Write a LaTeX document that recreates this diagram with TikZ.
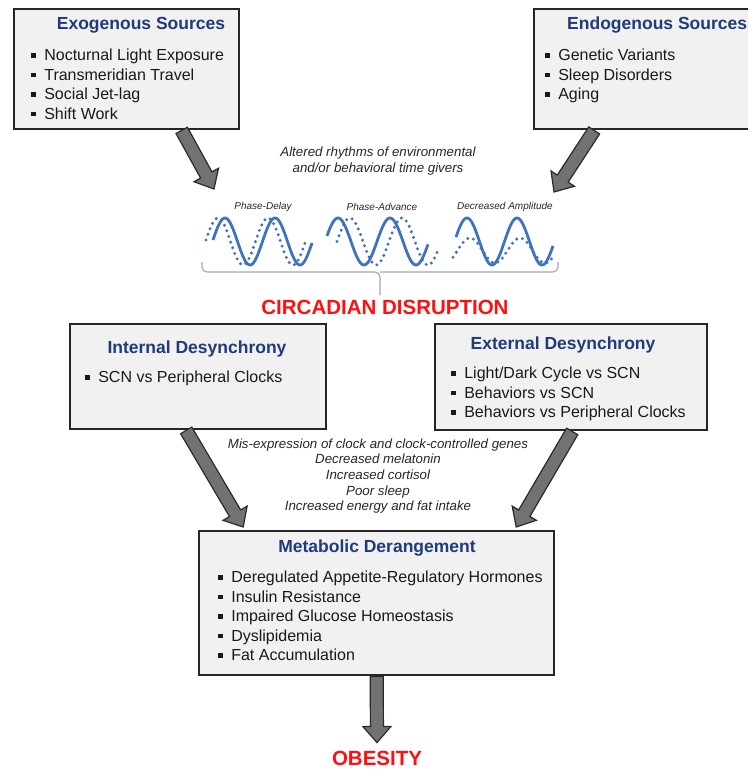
\documentclass[tikz,border=0pt]{standalone}
\usepackage{fontspec}
\setmainfont{Liberation Sans}
\usetikzlibrary{calc}

\definecolor{boxfill}{HTML}{F1F1F1}
\definecolor{boxline}{HTML}{262626}
\definecolor{titleblue}{HTML}{1F3B7A}
\definecolor{alarmred}{HTML}{FF1010}
\definecolor{waveblue}{HTML}{3F72BF}
\definecolor{arrowgray}{HTML}{727272}
\definecolor{arrowline}{HTML}{2A2A2A}
\definecolor{bracegray}{HTML}{A8A8A8}

\newcommand\sqb{\rule[0.2em]{0.27em}{0.27em}\hspace{0.55em}}
% block arrow from #1 to #2
\newcommand\fatarrow[2]{%
  \coordinate (fa-base) at ($(#2)!16pt!(#1)$);
  \filldraw[fatarrow] ($(#1)!6.5pt!90:(#2)$) -- ($(fa-base)!6.5pt!90:(#2)$)
    -- ($(fa-base)!14pt!90:(#2)$) -- (#2) -- ($(fa-base)!14pt!-90:(#2)$)
    -- ($(fa-base)!6.5pt!-90:(#2)$) -- ($(#1)!6.5pt!-90:(#2)$) -- cycle;}

\begin{document}
\begin{tikzpicture}[x=1pt,y=-1pt,
  box/.style={draw=boxline, fill=boxfill, line width=2.4pt, rectangle, inner sep=0pt, anchor=north west},
  boxtitle/.style={font=\fontsize{17.5}{20}\selectfont\bfseries, text=titleblue, inner sep=0pt},
  itemlist/.style={font=\fontsize{16}{19.5}\selectfont, text=black!90, align=left, anchor=north west, inner sep=0pt},
  note/.style={font=\fontsize{13.3}{15.6}\selectfont\itshape, text=black!85, align=center, inner sep=0pt},
  wavelabel/.style={font=\fontsize{10}{12}\selectfont\itshape, text=black!85, inner sep=0pt},
  alarm/.style={font=\fontsize{20.5}{24}\selectfont\bfseries, text=alarmred, inner sep=1pt},
  wave/.style={draw=waveblue, line width=2.8pt},
  dotwave/.style={wave, line width=3.3pt, line cap=round, dash pattern=on 0pt off 6pt},
  fatarrow/.style={draw=arrowline, fill=arrowgray, line width=1.2pt},
  brace/.style={draw=bracegray, line width=1.2pt, rounded corners=5pt}]
\useasboundingbox (0,0) rectangle (747,771);

% sources
\draw (13,8) node (exo) [box, minimum width=225pt, minimum height=120pt] {};
\draw (533,8) node (endo) [box, minimum width=234pt, minimum height=120pt] {};
\draw (141,25) node (exo-t) [boxtitle] {Exogenous Sources};
\draw (567,25) node (endo-t) [boxtitle, anchor=west] {Endogenous Sources};
\draw (31,49) node (exo-l) [itemlist] {\sqb Nocturnal Light Exposure\\ \sqb Transmeridian Travel\\ \sqb Social Jet-lag\\ \sqb Shift Work};
\draw (545,49) node (endo-l) [itemlist] {\sqb Genetic Variants\\ \sqb Sleep Disorders\\ \sqb Aging};

\draw (378,161) node (altered) [note] {Altered rhythms of environmental\\ and/or behavioral time givers};

% rhythms
\draw (263,207) node (pd) [wavelabel] {Phase-Delay};
\draw (382,207) node (pa) [wavelabel] {Phase-Advance};
\draw (505,207) node (da) [wavelabel] {Decreased Amplitude};
\draw[wave] plot[domain=213:312, samples=80] (\x, {241.5-23.5*cos((\x-225)/50*360)});
\draw[dotwave] plot[domain=206:305, samples=80] (\x, {241.5-23.5*cos((\x-218)/50*360)});
\draw[wave] plot[domain=327:428, samples=80] (\x, {241.5-23.5*cos((\x-338)/52*360)});
\draw[dotwave] plot[domain=337:437, samples=80] (\x, {241.5-23.5*cos((\x-350)/52*360)});
\draw[wave] plot[domain=456:553, samples=80] (\x, {241.5-23.5*cos((\x-467)/50*360)});
\draw[dotwave] plot[domain=453:553, samples=80] (\x, {250.5-12.5*cos((\x-470)/50*360)});
\draw[brace] (202,262) |- (380,272) -- (380,295);
\draw[brace] (558,262) |- (380,272);

\draw (385,307) node (cd) [alarm] {CIRCADIAN DISRUPTION};

% desynchrony
\draw (69,323) node (intl) [box, minimum width=256pt, minimum height=105pt] {};
\draw (434,323) node (extl) [box, minimum width=272pt, minimum height=106pt] {};
\draw (197,349) node (intl-t) [boxtitle] {Internal Desynchrony};
\draw (563,345) node (extl-t) [boxtitle] {External Desynchrony};
\draw (85,371) node (intl-l) [itemlist] {\sqb SCN vs Peripheral Clocks};
\draw (451,367) node (extl-l) [itemlist] {\sqb Light/Dark Cycle vs SCN\\ \sqb Behaviors vs SCN\\ \sqb Behaviors vs Peripheral Clocks};

\draw (378,476) node (mech) [note] {Mis-expression of clock and clock-controlled genes\\ Decreased melatonin\\ Increased cortisol\\ Poor sleep\\ Increased energy and fat intake};

% metabolic
\draw (198,530) node (meta) [box, minimum width=355pt, minimum height=144pt] {};
\draw (377,548) node (meta-t) [boxtitle] {Metabolic Derangement};
\draw (218,571) node (meta-l) [itemlist] {\sqb Deregulated Appetite-Regulatory Hormones\\ \sqb Insulin Resistance\\ \sqb Impaired Glucose Homeostasis\\ \sqb Dyslipidemia\\ \sqb Fat Accumulation};

\draw (377,758) node (ob) [alarm] {OBESITY};

% arrows
\coordinate (exo-out) at ([xshift=55pt]exo.south);
\coordinate (endo-out) at ([xshift=-57pt]endo.south);
\coordinate (exo-in) at (214,189);
\coordinate (endo-in) at (554,192);
\coordinate (intl-out) at ([xshift=-12pt]intl.south);
\coordinate (extl-out) at ([xshift=1pt]extl.south);
\coordinate (meta-inl) at ([xshift=-133.5pt,yshift=3pt]meta.north);
\coordinate (meta-inr) at ([xshift=139.5pt,yshift=3pt]meta.north);
\coordinate (ob-in) at ([yshift=7pt]ob.north);
\fatarrow{exo-out}{exo-in}
\fatarrow{endo-out}{endo-in}
\fatarrow{intl-out}{meta-inl}
\fatarrow{extl-out}{meta-inr}
\fatarrow{meta.south}{ob-in}
\end{tikzpicture}
\end{document}
